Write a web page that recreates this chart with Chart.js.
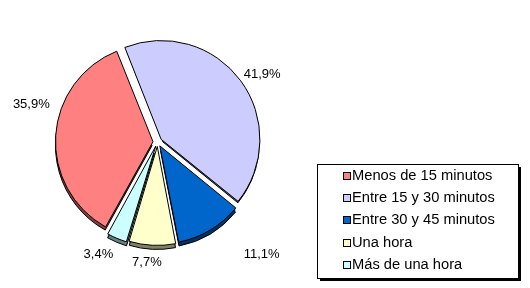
<!DOCTYPE html>
<html>
<head>
<meta charset="utf-8">
<script src="https://cdn.jsdelivr.net/npm/chart.js@4"></script>
<style>
html,body{margin:0;padding:0;background:#fff;}
canvas{display:block;}
</style>
</head>
<body>
<canvas id="c" width="530" height="288"></canvas>
<script>
const categories = ["Menos de 15 minutos", "Entre 15 y 30 minutos", "Entre 30 y 45 minutos", "Una hora", "Más de una hora"];
const percentages = [35.9, 41.9, 11.1, 7.7, 3.4];
const sliceColors = ["#FF8080", "#CCCCFF", "#0066CC", "#FFFFCC", "#CCFFFF"];
const edgeColors = ["#804040", "#666680", "#003366", "#808066", "#668080"];

const FONT = "'Liberation Sans', Arial, sans-serif";
const EXPLODE = 18;
const DEPTH = 4;

function arcGeom(arc) {
  const p = arc.getProps(['x', 'y', 'startAngle', 'endAngle', 'outerRadius'], true);
  const circ = p.endAngle - p.startAngle;
  const half = (p.startAngle + p.endAngle) / 2;
  const fix = 1 - Math.sin(Math.min(Math.PI, circ));
  const t = EXPLODE / 4 * (1 + fix);
  return {cx: p.x + Math.cos(half) * t, cy: p.y + Math.sin(half) * t, r: p.outerRadius, s: p.startAngle, e: p.endAngle, half};
}

const depthPlugin = {
  id: 'depth',
  beforeDatasetsDraw(chart) {
    const ctx = chart.ctx;
    const meta = chart.getDatasetMeta(0);
    meta.data.forEach((arc, i) => {
      const g = arcGeom(arc);
      ctx.save();
      for (let d = 1; d <= DEPTH; d++) {
        ctx.beginPath();
        ctx.moveTo(g.cx, g.cy + d);
        ctx.arc(g.cx, g.cy + d, g.r, g.s, g.e);
        ctx.closePath();
        ctx.fillStyle = edgeColors[i];
        ctx.fill();
      }
      ctx.beginPath();
      ctx.moveTo(g.cx, g.cy + DEPTH);
      ctx.arc(g.cx, g.cy + DEPTH, g.r, g.s, g.e);
      ctx.closePath();
      ctx.lineWidth = 1;
      ctx.strokeStyle = "#000";
      ctx.stroke();
      ctx.restore();
    });
  }
};

const labelNudge = [[6, -30], [-3, 5], [36, 8], [-4, -2], [-8, -1]];

const labelPlugin = {
  id: 'outLabels',
  afterDatasetsDraw(chart) {
    const ctx = chart.ctx;
    const meta = chart.getDatasetMeta(0);
    ctx.save();
    ctx.font = "13px " + FONT;
    ctx.fillStyle = "#000";
    ctx.textAlign = "center";
    ctx.textBaseline = "middle";
    meta.data.forEach((arc, i) => {
      const g = arcGeom(arc);
      const txt = percentages[i].toFixed(1).replace('.', ',') + '%';
      const w = ctx.measureText(txt).width;
      const rr = g.r + 12;
      const ax = g.cx + Math.cos(g.half) * rr;
      const ay = g.cy + Math.sin(g.half) * rr;
      const x = ax + Math.cos(g.half) * w / 2 + labelNudge[i][0];
      const y = ay + Math.sin(g.half) * 7 + labelNudge[i][1];
      ctx.fillText(txt, x, y);
    });
    ctx.restore();
  }
};

const legendPlugin = {
  id: 'boxLegend',
  afterDraw(chart) {
    const ctx = chart.ctx;
    const bx = 317.5, by = 164.5, bw = 201, bh = 114;
    ctx.save();
    ctx.fillStyle = "#000";
    ctx.fillRect(bx + 2.5, by + 2.5, bw, bh);
    ctx.fillStyle = "#fff";
    ctx.fillRect(bx, by, bw, bh);
    ctx.strokeStyle = "#000";
    ctx.lineWidth = 1;
    ctx.strokeRect(bx, by, bw, bh);
    ctx.font = "14.7px " + FONT;
    ctx.textBaseline = "middle";
    ctx.textAlign = "left";
    categories.forEach((lab, i) => {
      const y = 176 + i * 22.2;
      ctx.fillStyle = sliceColors[i];
      ctx.fillRect(343.5, Math.round(y) - 3.5, 7, 7);
      ctx.strokeStyle = "#000";
      ctx.strokeRect(343.5, Math.round(y) - 3.5, 7, 7);
      ctx.fillStyle = "#000";
      ctx.fillText(lab, 352, y);
    });
    ctx.restore();
  }
};

new Chart(document.getElementById('c'), {
  type: 'pie',
  data: {
    labels: categories,
    datasets: [{
      data: percentages,
      backgroundColor: sliceColors,
      borderColor: "#000",
      borderWidth: 1,
      offset: EXPLODE,
      hoverOffset: 0
    }]
  },
  options: {
    responsive: false,
    animation: false,
    events: [],
    rotation: 209,
    layout: {padding: {left: 51, right: 266, top: 36, bottom: 40}},
    plugins: {
      legend: {display: false},
      tooltip: {enabled: false}
    }
  },
  plugins: [depthPlugin, labelPlugin, legendPlugin]
});
</script>
</body>
</html>
